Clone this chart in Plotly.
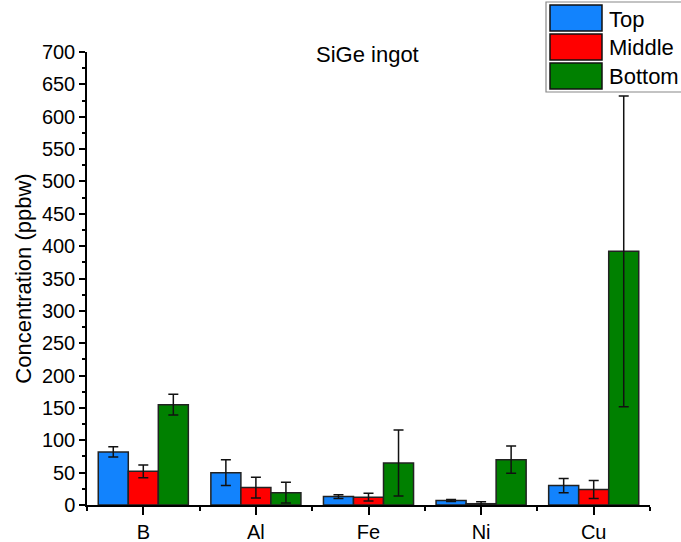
import plotly.graph_objects as go

# Impurity concentrations (ppbw) along the SiGe ingot
elements = ["B", "Al", "Fe", "Ni", "Cu"]
top_vals = [82, 50, 13, 7, 30]
top_err = [8, 20, 3, 1.5, 11]
middle_vals = [52, 27, 12, 2, 24]
middle_err = [10, 16, 6, 3, 14]
bottom_vals = [155, 19, 65, 70, 392]
bottom_err = [16, 16, 51, 21, 240]

series = [
    ("Top", top_vals, top_err, "#1283FD"),
    ("Middle", middle_vals, middle_err, "#FF0000"),
    ("Bottom", bottom_vals, bottom_err, "#008000"),
]

FONT = "Liberation Sans, Arial, sans-serif"
xpos = list(range(len(elements)))

fig = go.Figure()
for name, vals, errs, color in series:
    fig.add_trace(go.Bar(
        x=xpos, y=vals, name=name,
        marker=dict(color=color, line=dict(color="#222222", width=1.5)),
        error_y=dict(type="data", array=errs, visible=True,
                     color="#111111", thickness=1.5, width=5),
        showlegend=False,
    ))

# Boxed legend with large swatches in the upper-right corner
fig.add_shape(type="rect", xref="paper", yref="paper",
              x0=(546 - 87) / 563, x1=(700 - 87) / 563,
              y0=(505 - 92) / 453, y1=(505 - 2) / 453,
              line=dict(color="#888888", width=1.2), fillcolor="white",
              layer="above")
row_tops = [5, 34, 63]
for (name, _, _, color), rt in zip(series, row_tops):
    fig.add_shape(type="rect", xref="paper", yref="paper",
                  x0=(550 - 87) / 563, x1=(602 - 87) / 563,
                  y0=(505 - (rt + 26)) / 453, y1=(505 - rt) / 453,
                  line=dict(color="#111111", width=1.5), fillcolor=color,
                  layer="above")
    fig.add_annotation(xref="paper", yref="paper",
                       x=(607 - 87) / 563, y=(505 - (rt + 14)) / 453,
                       text=name, showarrow=False, xanchor="left",
                       yanchor="middle",
                       font=dict(family=FONT, size=22, color="black"))

fig.add_annotation(xref="paper", yref="paper",
                   x=(367 - 87) / 563, y=(505 - 54) / 453,
                   text="SiGe ingot", showarrow=False,
                   xanchor="center", yanchor="middle",
                   font=dict(family=FONT, size=22, color="black"))

fig.update_layout(
    width=681, height=542,
    margin=dict(l=87, r=31, t=52, b=37),
    paper_bgcolor="white", plot_bgcolor="white",
    barmode="group", bargap=0.2, bargroupgap=0,
    font=dict(family=FONT, color="black"),
)
fig.update_xaxes(
    range=[-0.5, len(elements) - 0.5], automargin=False,
    tickmode="array", tickvals=xpos, ticktext=elements,
    showline=True, linecolor="black", linewidth=1.5,
    ticks="outside", ticklen=8, tickwidth=1.5, tickcolor="black",
    minor=dict(tickmode="linear", tick0=0.5, dtick=1, ticks="outside",
               ticklen=4, tickwidth=1.5, tickcolor="black"),
    showgrid=False, zeroline=False,
    tickfont=dict(family=FONT, size=20, color="black"),
)
fig.update_yaxes(
    range=[0, 700], tick0=0, dtick=50, automargin=False,
    showline=True, linecolor="black", linewidth=1.5,
    ticks="outside", ticklen=6, tickwidth=1.5, tickcolor="black",
    minor=dict(tick0=0, dtick=25, ticks="outside", ticklen=3,
               tickwidth=1.5, tickcolor="black"),
    showgrid=False, zeroline=False,
    tickfont=dict(family=FONT, size=20, color="black"),
    title=dict(text="Concentration (ppbw)", standoff=4,
               font=dict(family=FONT, size=22, color="black")),
)

fig.write_html("out.html")
